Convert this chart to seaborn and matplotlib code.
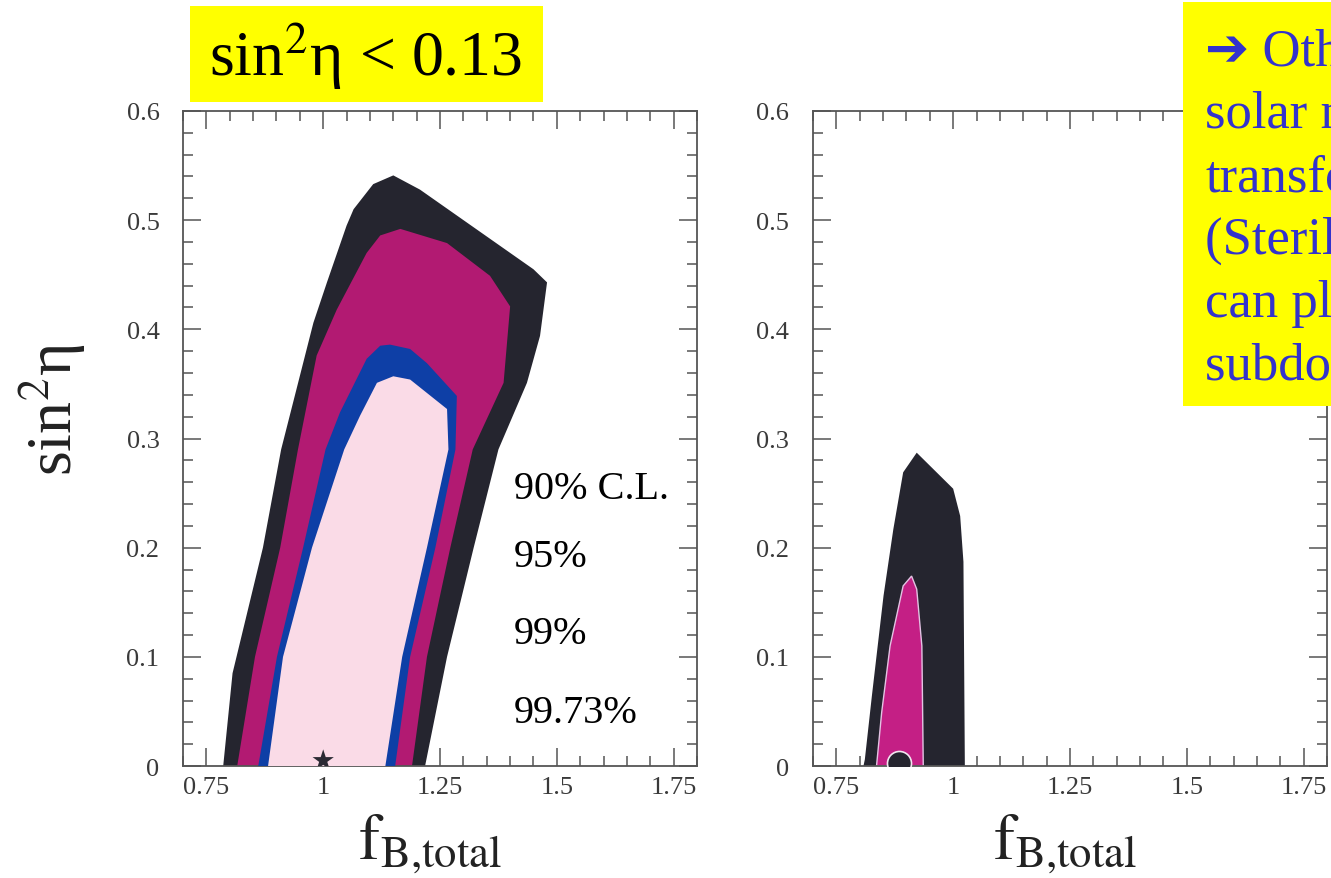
import matplotlib
matplotlib.use("Agg")
import matplotlib.pyplot as plt
from matplotlib.patches import Rectangle
from matplotlib.ticker import FixedLocator, FixedFormatter, MultipleLocator
import seaborn as sns

# ---------------------------------------------------------------
# Allowed regions in the (f_B,total, sin^2 eta) plane.
# Each contour is traced from its lower-left corner, up the left
# edge, over the top and back down the right edge.
# ---------------------------------------------------------------
# left panel: sin^2 eta unconstrained
left_9973_x = [0.786, 0.806, 0.871, 0.910, 0.979, 1.008, 1.050, 1.065, 1.107, 1.150,
               1.207, 1.450, 1.479, 1.464, 1.436, 1.375, 1.322, 1.265, 1.218]
left_9973_y = [0.000, 0.085, 0.200, 0.290, 0.406, 0.443, 0.495, 0.510, 0.533, 0.541,
               0.528, 0.455, 0.443, 0.394, 0.351, 0.290, 0.200, 0.100, 0.000]

left_99_x = [0.816, 0.854, 0.908, 0.946, 0.986, 1.029, 1.093, 1.122, 1.165,
             1.265, 1.357, 1.400, 1.386, 1.320, 1.272, 1.222, 1.190]
left_99_y = [0.000, 0.100, 0.200, 0.290, 0.376, 0.418, 0.470, 0.486, 0.492,
             0.479, 0.449, 0.421, 0.351, 0.290, 0.200, 0.100, 0.000]

left_95_x = [0.861, 0.901, 0.957, 1.005, 1.036, 1.093, 1.122, 1.143,
             1.186, 1.222, 1.286, 1.283, 1.240, 1.186, 1.154]
left_95_y = [0.000, 0.100, 0.200, 0.290, 0.324, 0.373, 0.385, 0.386,
             0.382, 0.369, 0.339, 0.290, 0.200, 0.100, 0.000]

left_90_x = [0.882, 0.914, 0.976, 1.045, 1.079, 1.115, 1.150,
             1.186, 1.265, 1.268, 1.222, 1.169, 1.133]
left_90_y = [0.000, 0.100, 0.200, 0.290, 0.321, 0.351, 0.357,
             0.354, 0.327, 0.290, 0.200, 0.100, 0.000]

left_best_fit = (1.0, 0.005)

# right panel: sin^2 eta < 0.13 imposed
right_9973_x = [0.808, 0.811, 0.826, 0.851, 0.872, 0.893, 0.922, 1.000, 1.015, 1.022, 1.025]
right_9973_y = [0.000, 0.006, 0.064, 0.156, 0.217, 0.269, 0.287, 0.254, 0.229, 0.187, 0.000]

right_99_x = [0.836, 0.847, 0.865, 0.893, 0.911, 0.922, 0.933, 0.936]
right_99_y = [0.000, 0.049, 0.110, 0.165, 0.174, 0.162, 0.110, 0.000]

right_best_fit = (0.885, 0.003)

# axes ticks
x_ticks = [0.75, 1.0, 1.25, 1.5, 1.75]
x_tick_labels = ["0.75", "1", "1.25", "1.5", "1.75"]
y_ticks = [0.0, 0.1, 0.2, 0.3, 0.4, 0.5, 0.6]
y_tick_labels = ["0", "0.1", "0.2", "0.3", "0.4", "0.5", "0.6"]

cl_labels = ["90% C.L.", "95%", "99%", "99.73%"]

title_text = "sin$^{2}$η < 0.13"
y_label = "sin$^{2}$η"
x_label = r"$\mathrm{f}_{\mathrm{B{,}total}}$"
note_lines = ["\u2794 Other", "solar neutrino", "transformations",
              "(Sterile neutrinos)", "can play", "subdominant role"]

# colours
c_9973 = "#25252f"
c_99 = "#b21a72"
c_95 = "#0e3fa6"
c_90 = "#fadbe7"
c_yellow = "#ffff00"
c_note = "#3333cc"
c_axis = "#555555"

sns.set_theme(style="ticks")
plt.rcParams["font.family"] = ["Liberation Serif", "DejaVu Serif"]
plt.rcParams["mathtext.fontset"] = "stix"

fig = plt.figure(figsize=(13.31, 8.79), dpi=100)
fig.patch.set_facecolor("white")

ax_l = fig.add_axes([0.1375, 0.1274, 0.3862, 0.7452])
ax_r = fig.add_axes([0.6108, 0.1274, 0.3862, 0.7452])


def style_axes(ax):
    ax.set_xlim(0.70, 1.80)
    ax.set_ylim(0.0, 0.6)
    ax.set_facecolor("white")
    ax.xaxis.set_major_locator(FixedLocator(x_ticks))
    ax.xaxis.set_major_formatter(FixedFormatter(x_tick_labels))
    ax.xaxis.set_minor_locator(MultipleLocator(0.05))
    ax.yaxis.set_major_locator(FixedLocator(y_ticks))
    ax.yaxis.set_major_formatter(FixedFormatter(y_tick_labels))
    ax.yaxis.set_minor_locator(MultipleLocator(0.02))
    ax.tick_params(which="both", direction="in", top=True, right=True,
                   color=c_axis, width=1.1, labelcolor="#3a3a3a", labelsize=19)
    ax.tick_params(which="major", length=13)
    ax.tick_params(which="minor", length=7)
    ax.tick_params(axis="x", which="major", pad=7)
    ax.tick_params(axis="y", which="major", pad=17)
    for sp in ax.spines.values():
        sp.set_visible(True)
        sp.set_color(c_axis)
        sp.set_linewidth(1.3)
    ax.set_xlabel(x_label, fontsize=46, color="#222222")
    ax.xaxis.set_label_coords(0.48, -0.07)
    ax.set_ylabel("")


# left panel contours, outermost first
ax_l.fill(left_9973_x, left_9973_y, color=c_9973, lw=0, zorder=1)
ax_l.fill(left_99_x, left_99_y, color=c_99, lw=0, zorder=2)
ax_l.fill(left_95_x, left_95_y, color=c_95, lw=0, zorder=3)
ax_l.fill(left_90_x, left_90_y, color=c_90, lw=0, zorder=4)
sns.scatterplot(x=[left_best_fit[0]], y=[left_best_fit[1]], marker="*", s=260,
                color="#2a2a33", edgecolor="none", ax=ax_l, zorder=6, legend=False)

for lbl, yv in zip(cl_labels, [0.254, 0.192, 0.121, 0.049]):
    ax_l.text(1.408, yv, lbl, fontsize=29, color="black", va="center", ha="left", zorder=7)

style_axes(ax_l)
ax_l.set_ylabel(y_label, fontsize=46, color="#222222")
ax_l.yaxis.set_label_coords(-0.185, 0.545)

# right panel contours
ax_r.fill(right_9973_x, right_9973_y, color=c_9973, lw=0, zorder=1)
ax_r.fill(right_99_x, right_99_y, facecolor="#c41f85", edgecolor="#e3c3e3", lw=1.0, zorder=2)
sns.scatterplot(x=[right_best_fit[0]], y=[right_best_fit[1]], marker="o", s=300,
                color=c_9973, edgecolor="#f2e6f0", linewidth=1.2, ax=ax_r, zorder=5,
                legend=False)
style_axes(ax_r)
ax_r.xaxis.set_label_coords(0.49, -0.07)

# headline boxes
fig.add_artist(Rectangle((190 / 1331, 1 - 103 / 879), 353 / 1331, 96 / 879,
                         transform=fig.transFigure, facecolor=c_yellow,
                         edgecolor="none", zorder=10))
fig.text(366 / 1331, 1 - 56 / 879, title_text, fontsize=46, color="black",
         ha="center", va="center", zorder=11)

fig.add_artist(Rectangle((1183 / 1331, 1 - 407 / 879), 148 / 1331, 404 / 879,
                         transform=fig.transFigure, facecolor=c_yellow,
                         edgecolor="none", zorder=10))
for i, line in enumerate(note_lines):
    fig.text(1205 / 1331, 1 - (65 + 63 * i) / 879, line, fontsize=38, color=c_note,
             ha="left", va="baseline", zorder=11,
             family=["Liberation Serif", "DejaVu Sans"])

fig.savefig("out.png", dpi=100, facecolor="white")
